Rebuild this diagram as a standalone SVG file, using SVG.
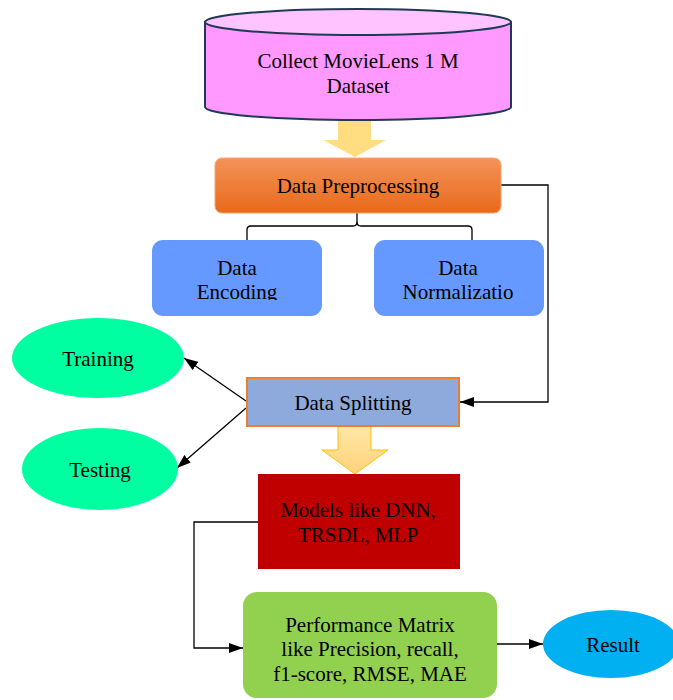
<svg xmlns="http://www.w3.org/2000/svg" width="673" height="700" viewBox="0 0 673 700">
  <defs>
    <style>
      .t { font-family: "Liberation Serif", "Times New Roman", serif; font-size: 21px; fill: #000; text-anchor: middle; }
      .line { fill: none; stroke: #000; stroke-width: 1.3; }
    </style>
    <linearGradient id="orangeGrad" x1="0" y1="0" x2="0" y2="1">
      <stop offset="0" stop-color="#F4935A"/>
      <stop offset="1" stop-color="#E8691A"/>
    </linearGradient>
    <linearGradient id="yellowGrad" x1="0" y1="0" x2="0" y2="1">
      <stop offset="0" stop-color="#FFE7A8"/>
      <stop offset="1" stop-color="#FFD27A"/>
    </linearGradient>
    <marker id="arrow" viewBox="0 0 14 10" refX="14" refY="5" markerWidth="14" markerHeight="10" markerUnits="userSpaceOnUse" orient="auto">
      <path d="M0,0 L14,5 L0,10 Z" fill="#000"/>
    </marker>
    <clipPath id="clipEnc"><rect x="152" y="240" width="170" height="60"/></clipPath>
    <clipPath id="clipNorm"><rect x="374" y="240" width="170" height="60"/></clipPath>
  </defs>

  <rect width="673" height="700" fill="#fff"/>

  <!-- connectors -->
  <g id="connectors">
    <!-- brace from preprocessing to its two sub-steps -->
    <path class="line" d="M357,213 V222 Q357,226 353,226 H251 Q247,226 247,230 V240"/>
    <path class="line" d="M357,222 Q357,226 361,226 H468 Q472,226 472,230 V240"/>
    <!-- preprocessing to splitting -->
    <path class="line" d="M501,185 H548 V402 H460" marker-end="url(#arrow)"/>
    <!-- splitting to training / testing -->
    <path class="line" d="M246,401 L184,358" marker-end="url(#arrow)"/>
    <path class="line" d="M246,408 L177,468" marker-end="url(#arrow)"/>
    <!-- models to performance -->
    <path class="line" d="M258,522 H194 V648 H243" marker-end="url(#arrow)"/>
    <!-- performance to result -->
    <path class="line" d="M497,644 H543" marker-end="url(#arrow)"/>
    <!-- block arrows -->
    <path d="M338,120 H371 V140 H386 L355,157 L323,140 H338 Z" fill="#FFDD80"/>
    <path d="M338,426 H371 V450 H388 L355,474 L322,450 H338 Z" fill="url(#yellowGrad)" stroke="#FFC000" stroke-width="1"/>
  </g>

  <!-- dataset cylinder -->
  <g id="dataset">
    <path d="M205,22 V107 A153,13 0 0 0 511,107 V22 Z" fill="#FF99FF" stroke="#1F3A55" stroke-width="2"/>
    <ellipse cx="358" cy="22" rx="153" ry="13" fill="#FFC4FF" stroke="#1F3A55" stroke-width="2"/>
    <text class="t" x="358" y="68">Collect MovieLens 1 M</text>
    <text class="t" x="358" y="93">Dataset</text>
  </g>

  <g id="preprocessing">
    <rect x="215" y="158" width="286" height="55" rx="7" fill="url(#orangeGrad)" stroke="#F7A36E" stroke-width="1"/>
    <text class="t" x="358" y="193">Data Preprocessing</text>
  </g>

  <g id="encoding">
    <rect x="152" y="240" width="170" height="76" rx="11" fill="#6699FF"/>
    <g clip-path="url(#clipEnc)">
      <text class="t" x="237" y="275">Data</text>
      <text class="t" x="237" y="299">Encoding</text>
    </g>
  </g>

  <g id="normalization">
    <rect x="374" y="240" width="170" height="76" rx="11" fill="#6699FF"/>
    <g clip-path="url(#clipNorm)">
      <text class="t" x="458" y="275">Data</text>
      <text class="t" x="458" y="299">Normalizatio</text>
    </g>
  </g>

  <g id="training">
    <ellipse cx="98" cy="358" rx="86" ry="40" fill="#00FFA0"/>
    <text class="t" x="98" y="366">Training</text>
  </g>

  <g id="testing">
    <ellipse cx="100" cy="469" rx="78" ry="41" fill="#00FFA0"/>
    <text class="t" x="100" y="477">Testing</text>
  </g>

  <g id="splitting">
    <rect x="247" y="378" width="212" height="48" fill="#8EA9DB" stroke="#ED7D31" stroke-width="2"/>
    <text class="t" x="353" y="410">Data Splitting</text>
  </g>

  <g id="models">
    <rect x="258" y="474" width="202" height="95" fill="#C00000"/>
    <text class="t" x="358" y="517">Models like DNN,</text>
    <text class="t" x="358" y="542">TRSDL, MLP</text>
  </g>

  <g id="performance">
    <rect x="243" y="592" width="254" height="106" rx="14" fill="#92D050"/>
    <text class="t" x="370" y="632">Performance Matrix</text>
    <text class="t" x="370" y="656">like Precision, recall,</text>
    <text class="t" x="370" y="681">f1-score, RMSE, MAE</text>
  </g>

  <g id="result">
    <ellipse cx="611" cy="644" rx="68" ry="34" fill="#00B0F0"/>
    <text class="t" x="613" y="652">Result</text>
  </g>
</svg>
